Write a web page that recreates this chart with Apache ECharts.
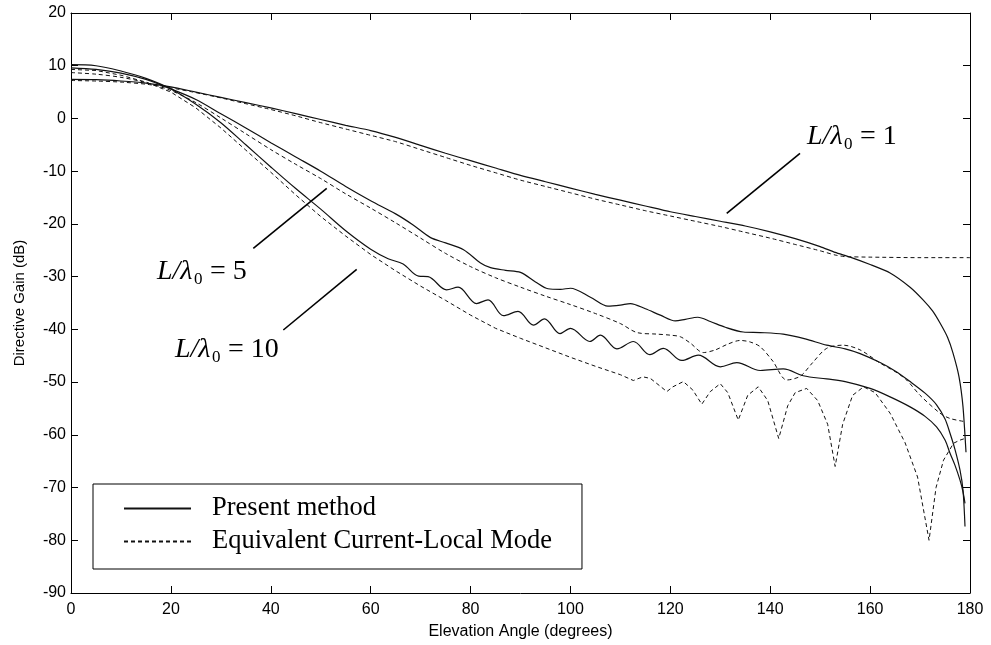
<!DOCTYPE html>
<html>
<head>
<meta charset="utf-8">
<script src="https://cdn.jsdelivr.net/npm/echarts@6/dist/echarts.min.js"></script>
<style>
html,body{margin:0;padding:0;background:#fff;}
#chart{width:991px;height:645px;}
</style>
</head>
<body>
<div id="chart"></div>
<script>
// ---------- data ----------
const xTicks = [0, 20, 40, 60, 80, 100, 120, 140, 160, 180];
const yTicks = [-90, -80, -70, -60, -50, -40, -30, -20, -10, 0, 10, 20];

const legendNames = ['Present method', 'Equivalent Current-Local Mode'];
const curveLabels = ['1', '5', '10'];

// L/lambda0 = 1, present method
const l1PresentDeg = [0,5,10,15,20,25,30,35,40,45,50,55,60,65,70,75,80,85,90,95,100,105,110,115,120,125,130,135,140,145,150,153,156,160,164,168,170.6,172.5,174,175.5,176.6,177.8,178.6,179.2];
const l1PresentDb  = [7.4,7.35,7.1,6.7,6.0,5.0,4.0,3.0,2.0,0.9,-0.2,-1.3,-2.3,-3.6,-5.1,-6.6,-8.0,-9.4,-10.8,-12.0,-13.2,-14.4,-15.5,-16.6,-17.7,-18.6,-19.5,-20.4,-21.5,-22.8,-24.3,-25.4,-26.3,-27.7,-29.3,-32.0,-34.4,-36.5,-38.8,-41.5,-44.5,-49.0,-54.7,-63.3];
// L/lambda0 = 1, equivalent current-local mode
const l1EclmDeg = [0,5,10,15,20,25,30,35,40,45,50,55,60,65,70,75,80,85,90,95,100,105,110,115,120,125,130,135,140,145,150,153,155,160,170,180];
const l1EclmDb  = [7.2,7.1,6.9,6.5,5.8,4.9,3.9,2.8,1.7,0.5,-0.8,-2.0,-3.2,-4.4,-5.9,-7.4,-8.9,-10.3,-11.7,-12.9,-14.1,-15.3,-16.4,-17.5,-18.5,-19.5,-20.5,-21.6,-22.7,-23.9,-25.1,-25.9,-26.2,-26.3,-26.4,-26.4];

// L/lambda0 = 5, present method
const l5PresentDeg = [0,5,10,15,20,25,30,35,40,45,50,55,60,65,68.5,72,75,78.6,82,84,87,90,93,95.5,98,100,104,107.5,110,112,115,118,121,123,125.5,128,131,134.6,138,142.6,147,151.3,155,158,162,165,168,171,173.3,175,176,177,178,178.6,179];
const l5PresentDb  = [9.6,9.3,8.6,7.4,5.6,3.6,0.9,-1.8,-4.6,-7.3,-10.0,-12.9,-15.6,-18.1,-20.2,-22.6,-23.6,-24.9,-27.4,-28.3,-28.8,-29.2,-31.0,-32.3,-32.4,-32.2,-33.9,-35.6,-35.4,-35.1,-36.1,-37.3,-38.4,-38.1,-37.7,-38.5,-39.6,-40.5,-40.6,-40.9,-41.8,-43.0,-43.7,-44.6,-46.3,-47.9,-49.9,-52.1,-54.3,-57.0,-59.7,-62.8,-66.7,-70.5,-77.4];
// L/lambda0 = 5, equivalent current-local mode
const l5EclmDeg = [0,5,10,15,20,25,30,35,40,45,50,55,60,65,70,75,80,85,90,95,100,105,110,113.3,117.3,120,122,124,126.6,129,131.5,134,136,138,140.5,143.3,146,148.5,151.3,154.6,158,162,165,167.3,170,174,176,179];
const l5EclmDb  = [8.7,8.4,7.8,6.8,5.3,3.0,0.1,-2.9,-5.9,-8.7,-11.4,-14.3,-17.0,-19.8,-22.7,-25.6,-28.1,-30.2,-32.0,-33.7,-35.3,-37.0,-38.9,-40.6,-40.9,-41.1,-41.4,-42.6,-44.4,-43.9,-42.8,-42.1,-42.4,-43.3,-46.0,-49.6,-48.9,-46.3,-43.6,-43.0,-43.9,-46.4,-48.0,-49.6,-52.5,-55.9,-56.9,-57.5];

// L/lambda0 = 10, present method
const l10PresentDeg = [0,5,10,15,20,25,30,35,40,45,50,55,60,63.5,66.5,69.6,71.5,75.2,77.5,81.2,83.5,86.6,89.5,92.6,94.8,97.9,100,103.9,106,109.3,112.6,115.9,118.6,122.3,125.6,130,133.3,138,142.6,146.6,151.3,155,160,164,168,171,173.3,175,176,177,178,178.6,179];
const l10PresentDb  = [10.2,10.0,9.0,7.6,5.6,2.7,-0.8,-5.0,-9.2,-13.3,-17.2,-21.3,-24.8,-26.6,-27.6,-29.9,-30.0,-32.5,-32.0,-35.1,-34.4,-37.4,-36.6,-39.2,-38.0,-40.8,-39.8,-42.3,-41.1,-43.7,-42.3,-44.8,-43.6,-45.9,-44.9,-47.1,-46.3,-47.8,-47.5,-48.8,-49.4,-49.9,-51.2,-52.8,-54.7,-56.5,-58.5,-61.0,-63.5,-65.8,-68.6,-70.8,-73.0];
// L/lambda0 = 10, equivalent current-local mode
const l10EclmDeg = [0,5,10,15,20,25,30,35,40,45,50,55,60,65,70,75,80,85,90,95,100,105,110,112.6,114.5,116,118,119.3,120.5,122.6,124.5,126.3,128,130,131.5,133.6,135.5,137.6,139.5,141.7,143.5,145,147.3,149.5,151.5,153,154.5,156.5,158.7,161,164,167,169.5,171.8,173.2,174.7,176.7,178,179];
const l10EclmDb  = [9.3,9.1,8.2,6.9,5.0,2.0,-1.8,-6.0,-10.2,-14.5,-18.6,-22.3,-25.8,-28.9,-31.8,-34.5,-37.3,-39.8,-41.7,-43.5,-45.3,-47.0,-48.6,-49.7,-49.0,-49.3,-50.8,-51.8,-50.9,-49.9,-51.5,-54.2,-51.8,-50.3,-52.0,-57.2,-52.5,-50.9,-53.5,-60.7,-54.5,-52.0,-51.2,-53.5,-58.0,-66.0,-58.0,-52.5,-50.9,-52.0,-55.9,-61.5,-68.0,-80.0,-70.0,-64.8,-61.6,-61.0,-60.7];

// ---------- chart ----------
const zip = (xs, ys) => xs.map((x, i) => [x, ys[i]]);
const INK = '#111';
const SANS = 'Liberation Sans, Arial, sans-serif';
const SERIF = 'Liberation Serif, Times New Roman, serif';

function mkSeries(name, xs, ys, dashed, smooth) {
  return {
    type: 'line', name: name, data: zip(xs, ys),
    xAxisIndex: 0, yAxisIndex: 0,
    showSymbol: false, symbol: 'none',
    smooth: smooth,
    lineStyle: { color: INK, width: dashed ? 1 : 1.2, type: dashed ? [4, 3] : 'solid' },
    itemStyle: { color: INK },
    emphasis: { disabled: true },
    silent: true, animation: false
  };
}

const series = [
  mkSeries(legendNames[0], l1PresentDeg, l1PresentDb, false, 0.2),
  mkSeries(legendNames[1], l1EclmDeg, l1EclmDb, true, 0.2),
  mkSeries(legendNames[0], l5PresentDeg, l5PresentDb, false, 0.3),
  mkSeries(legendNames[1], l5EclmDeg, l5EclmDb, true, 0.3),
  mkSeries(legendNames[0], l10PresentDeg, l10PresentDb, false, 0.35),
  mkSeries(legendNames[1], l10EclmDeg, l10EclmDb, true, false)
];

const axisCommon = {
  type: 'value',
  axisLine: { show: true, onZero: false, lineStyle: { color: '#000', width: 1 } },
  axisTick: { show: true, inside: true, length: 7, lineStyle: { color: '#000', width: 1 } },
  splitLine: { show: false }
};
const xMin = xTicks[0], xMax = xTicks[xTicks.length - 1], xStep = xTicks[1] - xTicks[0];
const yMin = yTicks[0], yMax = yTicks[yTicks.length - 1], yStep = yTicks[1] - yTicks[0];

const chart = echarts.init(document.getElementById('chart'), null, { renderer: 'canvas' });
chart.setOption({
  animation: false,
  backgroundColor: '#fff',
  grid: { left: 71, right: 21, top: 13, bottom: 52, containLabel: false },
  xAxis: [
    Object.assign({}, axisCommon, {
      position: 'bottom', min: xMin, max: xMax, interval: xStep,
      axisLabel: { color: '#000', fontSize: 16, fontFamily: SANS, margin: 9 },
      name: 'Elevation Angle (degrees)', nameLocation: 'middle', nameGap: 31,
      nameTextStyle: { color: '#000', fontSize: 16, fontFamily: SANS }
    }),
    Object.assign({}, axisCommon, {
      position: 'top', min: xMin, max: xMax, interval: xStep,
      axisLabel: { show: false }
    })
  ],
  yAxis: [
    Object.assign({}, axisCommon, {
      position: 'left', min: yMin, max: yMax, interval: yStep,
      axisLabel: { color: '#000', fontSize: 16, fontFamily: SANS, margin: 5 },
      name: 'Directive Gain (dB)', nameLocation: 'middle', nameGap: 44,
      nameTextStyle: { color: '#000', fontSize: 15, fontFamily: SANS }
    }),
    Object.assign({}, axisCommon, {
      position: 'right', min: yMin, max: yMax, interval: yStep,
      axisLabel: { show: false }
    })
  ],
  legend: {
    data: legendNames,
    orient: 'vertical',
    left: 93, top: 484,
    padding: [11, 30, 14, 30],
    itemGap: 6,
    itemWidth: 67, itemHeight: 14,
    selectedMode: false,
    itemStyle: { opacity: 0 },
    borderColor: '#000', borderWidth: 1, borderRadius: 0,
    backgroundColor: '#fff',
    textStyle: { color: '#000', fontSize: 26.5, lineHeight: 26, fontFamily: SERIF, padding: [0, 0, 0, 16] }
  },
  series: series
});

// ---------- annotations placed in data coordinates ----------
const labelAnchors = [[147.37, -3.42], [17.22, -29.12], [20.82, -43.91]];
const pointerLines = [
  [[145.96, -6.61], [131.29, -17.99]],
  [[36.50, -24.63], [51.20, -13.25]],
  [[42.51, -40.12], [57.20, -28.61]]
];
const toPx = p => chart.convertToPixel({ xAxisIndex: 0, yAxisIndex: 0 }, p);
const graphics = [];
curveLabels.forEach((lab, i) => {
  const a = toPx(labelAnchors[i]);
  graphics.push({
    type: 'group', x: a[0], y: a[1], silent: true,
    children: [
      { type: 'text', x: 0, y: 0, style: { text: 'L/λ', font: 'italic 28px ' + SERIF, fill: '#000', verticalAlign: 'middle', align: 'left' } },
      { type: 'text', x: 37, y: 8, style: { text: '0', font: '17px ' + SERIF, fill: '#000', verticalAlign: 'middle', align: 'left' } },
      { type: 'text', x: 53, y: 0, style: { text: '= ' + lab, font: '28px ' + SERIF, fill: '#000', verticalAlign: 'middle', align: 'left' } }
    ]
  });
  const p1 = toPx(pointerLines[i][0]), p2 = toPx(pointerLines[i][1]);
  graphics.push({
    type: 'line', silent: true,
    shape: { x1: p1[0], y1: p1[1], x2: p2[0], y2: p2[1] },
    style: { stroke: '#000', lineWidth: 1.6 }
  });
});
chart.setOption({ graphic: graphics });
</script>
</body>
</html>
